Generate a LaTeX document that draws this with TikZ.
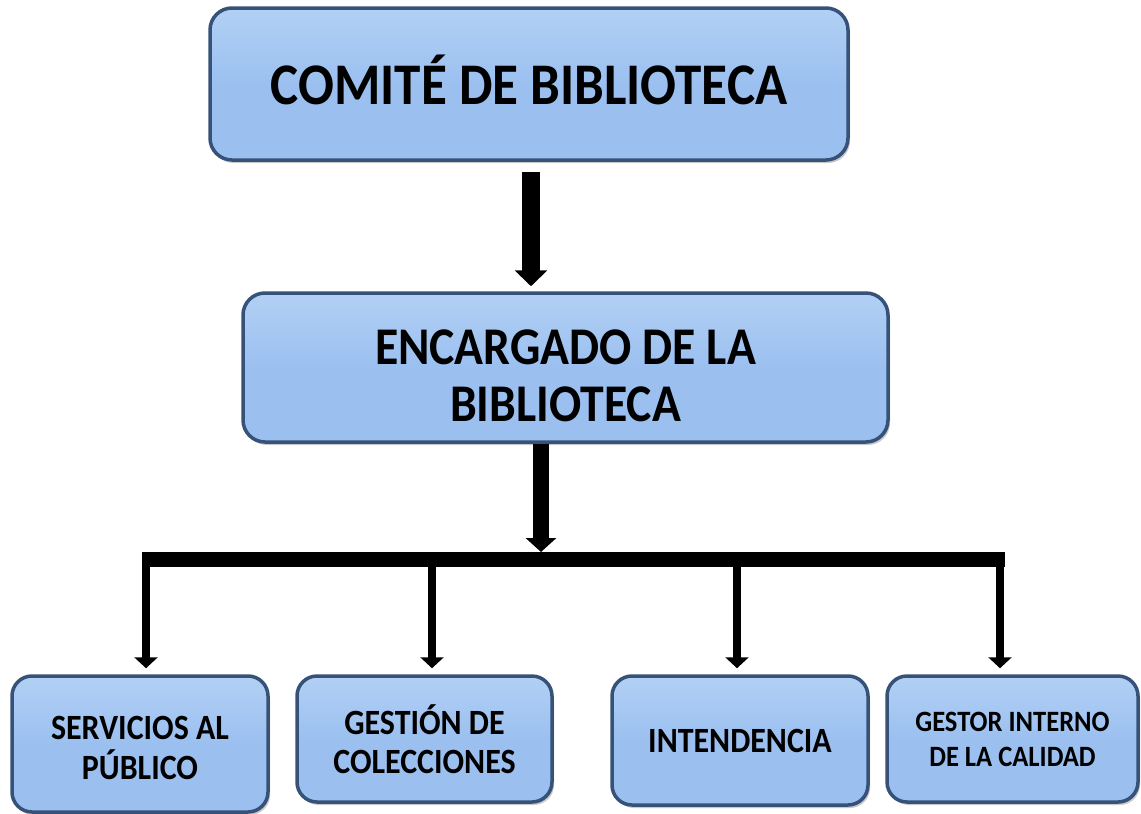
\documentclass[tikz,border=0pt]{standalone}
\usepackage{fontspec}
\setmainfont[FakeStretch=0.9]{Carlito}
\usetikzlibrary{arrows.meta,shadows,calc}
\definecolor{boxfill}{RGB}{155,192,240}
\definecolor{boxtop}{RGB}{178,208,244}
\definecolor{boxedge}{RGB}{55,82,120}
\tikzset{
  orgbox/.style={draw=boxedge, line width=3.5pt, top color=boxtop, bottom color=boxfill,
    middle color=boxfill, rounded corners=22pt,
    align=center, inner sep=0pt,
    drop shadow={shadow xshift=2pt, shadow yshift=-3pt, opacity=0.35, fill=black!60}},
  smallbox/.style={orgbox, rounded corners=20pt},
  bigarrow/.style={line width=18pt, -{Triangle[width=32pt,length=16pt]}},
  midarrow/.style={line width=16pt, -{Triangle[width=30pt,length=14pt]}},
  droparrow/.style={line width=8pt, -{Triangle[width=23pt,length=11pt]}},
  barline/.style={line width=15pt},
}
\begin{document}
\begin{tikzpicture}[x=1pt,y=-1pt]
\useasboundingbox (0,0) rectangle (1141,814);
% boxes
\node[orgbox, minimum width=638pt, minimum height=152pt,
  font={\bfseries\fontsize{59}{62}\selectfont}] (top) at (529,84)
  {\rule[-9pt]{0pt}{0pt}COMITÉ DE BIBLIOTECA};
\node[orgbox, minimum width=645pt, minimum height=149pt,
  font={\bfseries\fontsize{53}{57}\selectfont}] (enc) at (565.5,367.5)
  {\rule{0pt}{52pt}ENCARGADO DE LA\\BIBLIOTECA};
\node[smallbox, minimum width=256pt, minimum height=136pt,
  font={\bfseries\fontsize{35.5}{40}\selectfont}] (b1) at (140,744)
  {\rule{0pt}{31pt}SERVICIOS AL\\PÚBLICO};
\node[smallbox, minimum width=255pt, minimum height=126pt,
  font={\bfseries\fontsize{35.5}{39}\selectfont}] (b2) at (424.5,739)
  {GESTIÓN DE\\COLECCIONES};
\node[smallbox, minimum width=256pt, minimum height=129pt,
  font={\bfseries\fontsize{35.5}{39}\selectfont}] (b3) at (740,740.5)
  {INTENDENCIA};
\node[smallbox, minimum width=251pt, minimum height=126pt,
  font={\bfseries\fontsize{29.5}{35}\selectfont}] (b4) at (1012.5,739)
  {GESTOR INTERNO\\DE LA CALIDAD};
% connectors
\draw[bigarrow, shorten <=10pt, shorten >=5pt] (top.south -| 531,0) -- (enc.north -| 531,0);
\coordinate (barL) at (142,559.5);
\coordinate (barR) at (1005,559.5);
\coordinate (hub) at (541,552);
\draw[barline] (barL) -- (barR);
\draw[midarrow] (enc.south -| hub) -- (hub);
\coordinate (j1) at (146,552);
\coordinate (j2) at (432,552);
\coordinate (j3) at (737,552);
\coordinate (j4) at (1000,552);
\draw[droparrow, shorten >=6pt] (j1) -- (j1 |- b1.north);
\draw[droparrow, shorten >=6pt] (j2) -- (j2 |- b2.north);
\draw[droparrow, shorten >=6pt] (j3) -- (j3 |- b3.north);
\draw[droparrow, shorten >=6pt] (j4) -- (j4 |- b4.north);
\end{tikzpicture}
\end{document}
